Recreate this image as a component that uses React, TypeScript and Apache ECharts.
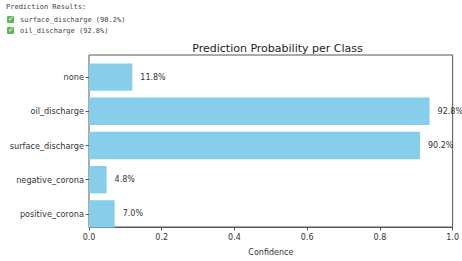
import React, { useEffect, useRef } from "react";
import * as echarts from "echarts";

const categories = ["positive_corona", "negative_corona", "surface_discharge", "oil_discharge", "none"];
const confidences = [0.07, 0.048, 0.902, 0.928, 0.118];
const resultLines = ["surface_discharge (90.2%)", "oil_discharge (92.8%)"];

export default function App() {
  const ref = useRef<HTMLDivElement>(null);
  useEffect(() => {
    if (!ref.current) return;
    const chart = echarts.init(ref.current, undefined, { renderer: "svg" });
    const font = "DejaVu Sans";
    const mono = "DejaVu Sans Mono";
    const gL = 89, gR = 6, gT = 55, gB = 25, pad = 5;
    const graphics: any[] = [
      {
        type: "text",
        left: 6,
        top: 3,
        style: { text: "Prediction Results:", font: `7px ${mono}`, fill: "#444" },
      },
    ];
    resultLines.forEach((t, i) => {
      const y = 16 + i * 11;
      graphics.push({
        type: "rect",
        shape: { x: 7, y: y, width: 7, height: 7, r: 1 },
        style: { fill: "#5cb85c" },
      });
      graphics.push({
        type: "text",
        x: 8,
        y: y - 1,
        style: { text: "✓", font: `bold 7px ${font}`, fill: "#fff" },
      });
      graphics.push({
        type: "text",
        x: 20,
        y: y,
        style: { text: t, font: `7px ${mono}`, fill: "#444" },
      });
    });
    chart.setOption({
      animation: false,
      backgroundColor: "#fff",
      title: {
        text: "Prediction Probability per Class",
        left: gL + (462 - gL - gR) / 2,
        textAlign: "center",
        top: 38,
        textStyle: { fontFamily: font, fontSize: 11, fontWeight: "normal", color: "#222" },
      },
      graphic: graphics,
      grid: [
        { left: gL, right: gR, top: gT, bottom: gB, show: true, borderColor: "#555", borderWidth: 1, backgroundColor: "transparent" },
        { left: gL, right: gR, top: gT + pad, bottom: gB + pad },
      ],
      xAxis: [
        {
          gridIndex: 0,
          type: "value",
          min: 0,
          max: 1,
          interval: 0.2,
          name: "Confidence",
          nameLocation: "middle",
          nameGap: 21,
          nameTextStyle: { fontFamily: font, fontSize: 8, color: "#333" },
          axisLine: { show: true, lineStyle: { color: "#555" } },
          axisTick: { show: true, length: 3.5, lineStyle: { color: "#555" } },
          axisLabel: {
            fontFamily: font,
            fontSize: 8,
            color: "#333",
            margin: 6,
            formatter: (v: number) => v.toFixed(1),
          },
          splitLine: { show: false },
        },
        {
          gridIndex: 1,
          type: "value",
          min: 0,
          max: 1,
          show: false,
        },
      ],
      yAxis: [
        { gridIndex: 0, type: "value", show: false, min: 0, max: 1 },
        {
          gridIndex: 1,
          type: "category",
          data: categories,
          axisLine: { show: false },
          axisTick: { show: true, length: 3.5, alignWithLabel: true, lineStyle: { color: "#555" } },
          axisLabel: { fontFamily: font, fontSize: 8.2, color: "#333", margin: 5 },
        },
      ],
      series: [
        {
          type: "bar",
          xAxisIndex: 1,
          yAxisIndex: 1,
          data: confidences,
          barWidth: "80%",
          itemStyle: { color: "#87CEEB" },
          label: {
            show: true,
            position: "right",
            distance: 8,
            fontFamily: font,
            fontSize: 8,
            color: "#333",
            formatter: (p: any) => (p.value * 100).toFixed(1) + "%",
          },
        },
      ],
    });
    return () => chart.dispose();
  }, []);
  return (
    <div
      ref={ref}
      style={{ position: "fixed", left: 0, top: 0, width: 462, height: 261, background: "#fff" }}
    />
  );
}
